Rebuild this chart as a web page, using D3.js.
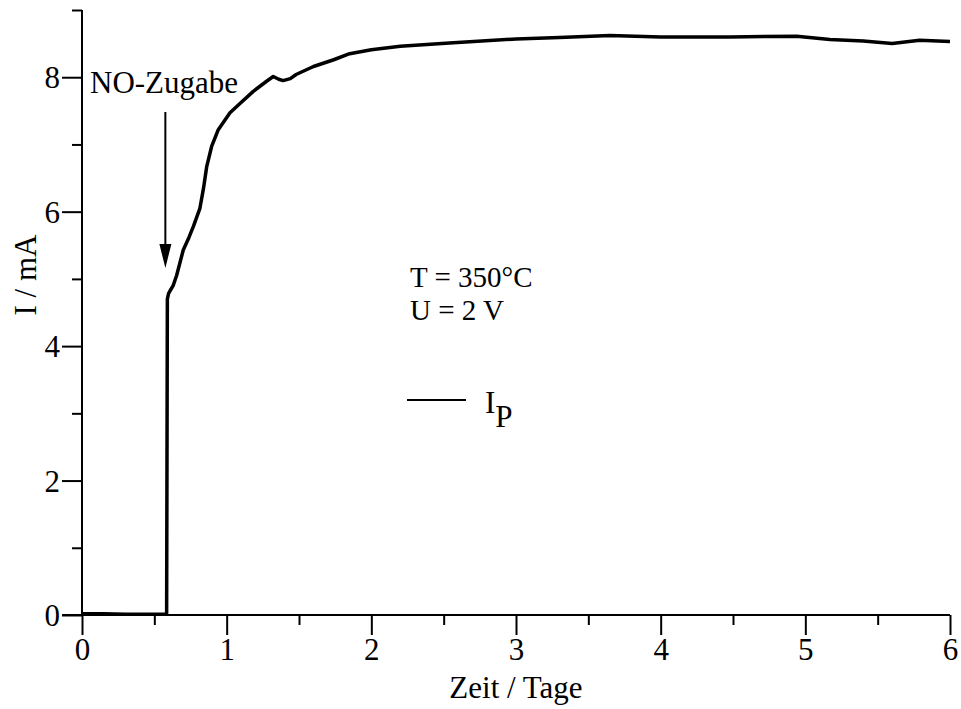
<!DOCTYPE html>
<html>
<head>
<meta charset="utf-8">
<script src="https://cdn.jsdelivr.net/npm/d3@7"></script>
<style>
  html, body { margin: 0; padding: 0; background: #fff; }
  svg { display: block; }
  text { font-family: "Liberation Serif", "Times New Roman", serif; fill: #000; }
</style>
</head>
<body>
<script>
// ---- data ----
const timeDays = [0, 0.15, 0.3, 0.45, 0.585, 0.59, 0.598, 0.608, 0.63, 0.654, 0.70, 0.74, 0.77, 0.815, 0.84, 0.862, 0.896, 0.942, 1.023, 1.092, 1.184, 1.276, 1.322, 1.36, 1.39, 1.44, 1.48, 1.60, 1.74, 1.85, 2.0, 2.2, 2.54, 3.0, 3.3, 3.65, 4.0, 4.48, 4.94, 5.17, 5.4, 5.6, 5.79, 6.0];
const currentMA = [0.02, 0.02, 0.01, 0.01, 0.01, 4.70, 4.78, 4.82, 4.90, 5.05, 5.43, 5.62, 5.78, 6.05, 6.35, 6.67, 6.97, 7.22, 7.47, 7.61, 7.79, 7.94, 8.01, 7.97, 7.95, 7.98, 8.04, 8.16, 8.26, 8.35, 8.41, 8.46, 8.51, 8.57, 8.59, 8.62, 8.60, 8.60, 8.61, 8.56, 8.54, 8.50, 8.55, 8.53];
const xMajorTicks = [0, 1, 2, 3, 4, 5, 6];
const xMinorTicks = [0.5, 1.5, 2.5, 3.5, 4.5, 5.5];
const yMajorTicks = [0, 2, 4, 6, 8];
const yMinorTicks = [1, 3, 5, 7, 9];
const xLabel = "Zeit / Tage";
const yLabel = "I / mA";
const annotation = "NO-Zugabe";
const annotationX = 0.59;
const infoLines = ["T = 350°C", "U = 2 V"];
const legendName = "I";
const legendSub = "P";

// ---- layout ----
const W = 961, H = 709;
const svg = d3.select("body").append("svg").attr("width", W).attr("height", H);
const x = d3.scaleLinear().domain([0, 6]).range([82, 950]);
const y = d3.scaleLinear().domain([0, 9]).range([615, 10]);
const FS = 31;
const FONT = '"Liberation Serif", "Times New Roman", serif';

// axes
const xAxis = svg.append("g").attr("transform", `translate(0,${y(0)})`);
xAxis.call(d3.axisBottom(x).tickValues(xMajorTicks).tickSize(20).tickFormat(d3.format("d")));
xAxis.append("g").call(d3.axisBottom(x).tickValues(xMinorTicks).tickSize(10).tickFormat(""));
const yAxis = svg.append("g").attr("transform", `translate(${x(0)},0)`);
yAxis.call(d3.axisLeft(y).tickValues(yMajorTicks).tickSize(20).tickFormat(d3.format("d")));
yAxis.append("g").call(d3.axisLeft(y).tickValues(yMinorTicks).tickSize(10).tickFormat(""));

svg.selectAll(".domain").remove();
svg.selectAll(".tick line").attr("stroke", "#000").attr("stroke-width", 2);
svg.selectAll(".tick text").style("font-family", FONT).style("font-size", FS + "px").attr("fill", "#000");
xAxis.selectAll(".tick text").attr("y", 23);
yAxis.selectAll(".tick text").attr("x", -22).attr("dy", "0.34em");

// axis lines (x axis extends left to the major tick end)
svg.append("line").attr("x1", x(0) - 20).attr("x2", x(6)).attr("y1", y(0)).attr("y2", y(0)).attr("stroke", "#000").attr("stroke-width", 2);
svg.append("line").attr("x1", x(0)).attr("x2", x(0)).attr("y1", y(9)).attr("y2", y(0)).attr("stroke", "#000").attr("stroke-width", 2);

// axis labels
svg.append("text").attr("x", (x(0) + x(6)) / 2).attr("y", 698).attr("text-anchor", "middle").style("font-size", FS + "px").text(xLabel);
svg.append("text").attr("transform", `translate(36,275) rotate(-90)`).attr("text-anchor", "middle").style("font-size", FS + "px").text(yLabel);

// data line
const line = d3.line().x((d, i) => x(timeDays[i])).y(d => y(d));
svg.append("path").datum(currentMA).attr("d", line).attr("fill", "none").attr("stroke", "#000").attr("stroke-width", 3.5).attr("stroke-linejoin", "round");

// annotation arrow
const ax = x(annotationX) - 2;
svg.append("line").attr("x1", ax).attr("x2", ax).attr("y1", 112).attr("y2", 250).attr("stroke", "#000").attr("stroke-width", 2);
svg.append("path").attr("d", `M${ax - 6},${244} L${ax + 6},${244} L${ax},${268} Z`).attr("fill", "#000");
svg.append("text").attr("x", 90).attr("y", 93).style("font-size", FS + "px").text(annotation);

// info text (two lines)
infoLines.forEach((t, i) => {
  svg.append("text").attr("x", 410).attr("y", 287 + i * 33).style("font-size", "29px").text(t);
});

// legend
svg.append("line").attr("x1", 407).attr("x2", 466).attr("y1", 400).attr("y2", 400).attr("stroke", "#000").attr("stroke-width", 2);
const lg = svg.append("text").attr("x", 485).attr("y", 413).style("font-size", FS + "px");
lg.append("tspan").text(legendName);
lg.append("tspan").attr("dy", 14).text(legendSub);
</script>
</body>
</html>
